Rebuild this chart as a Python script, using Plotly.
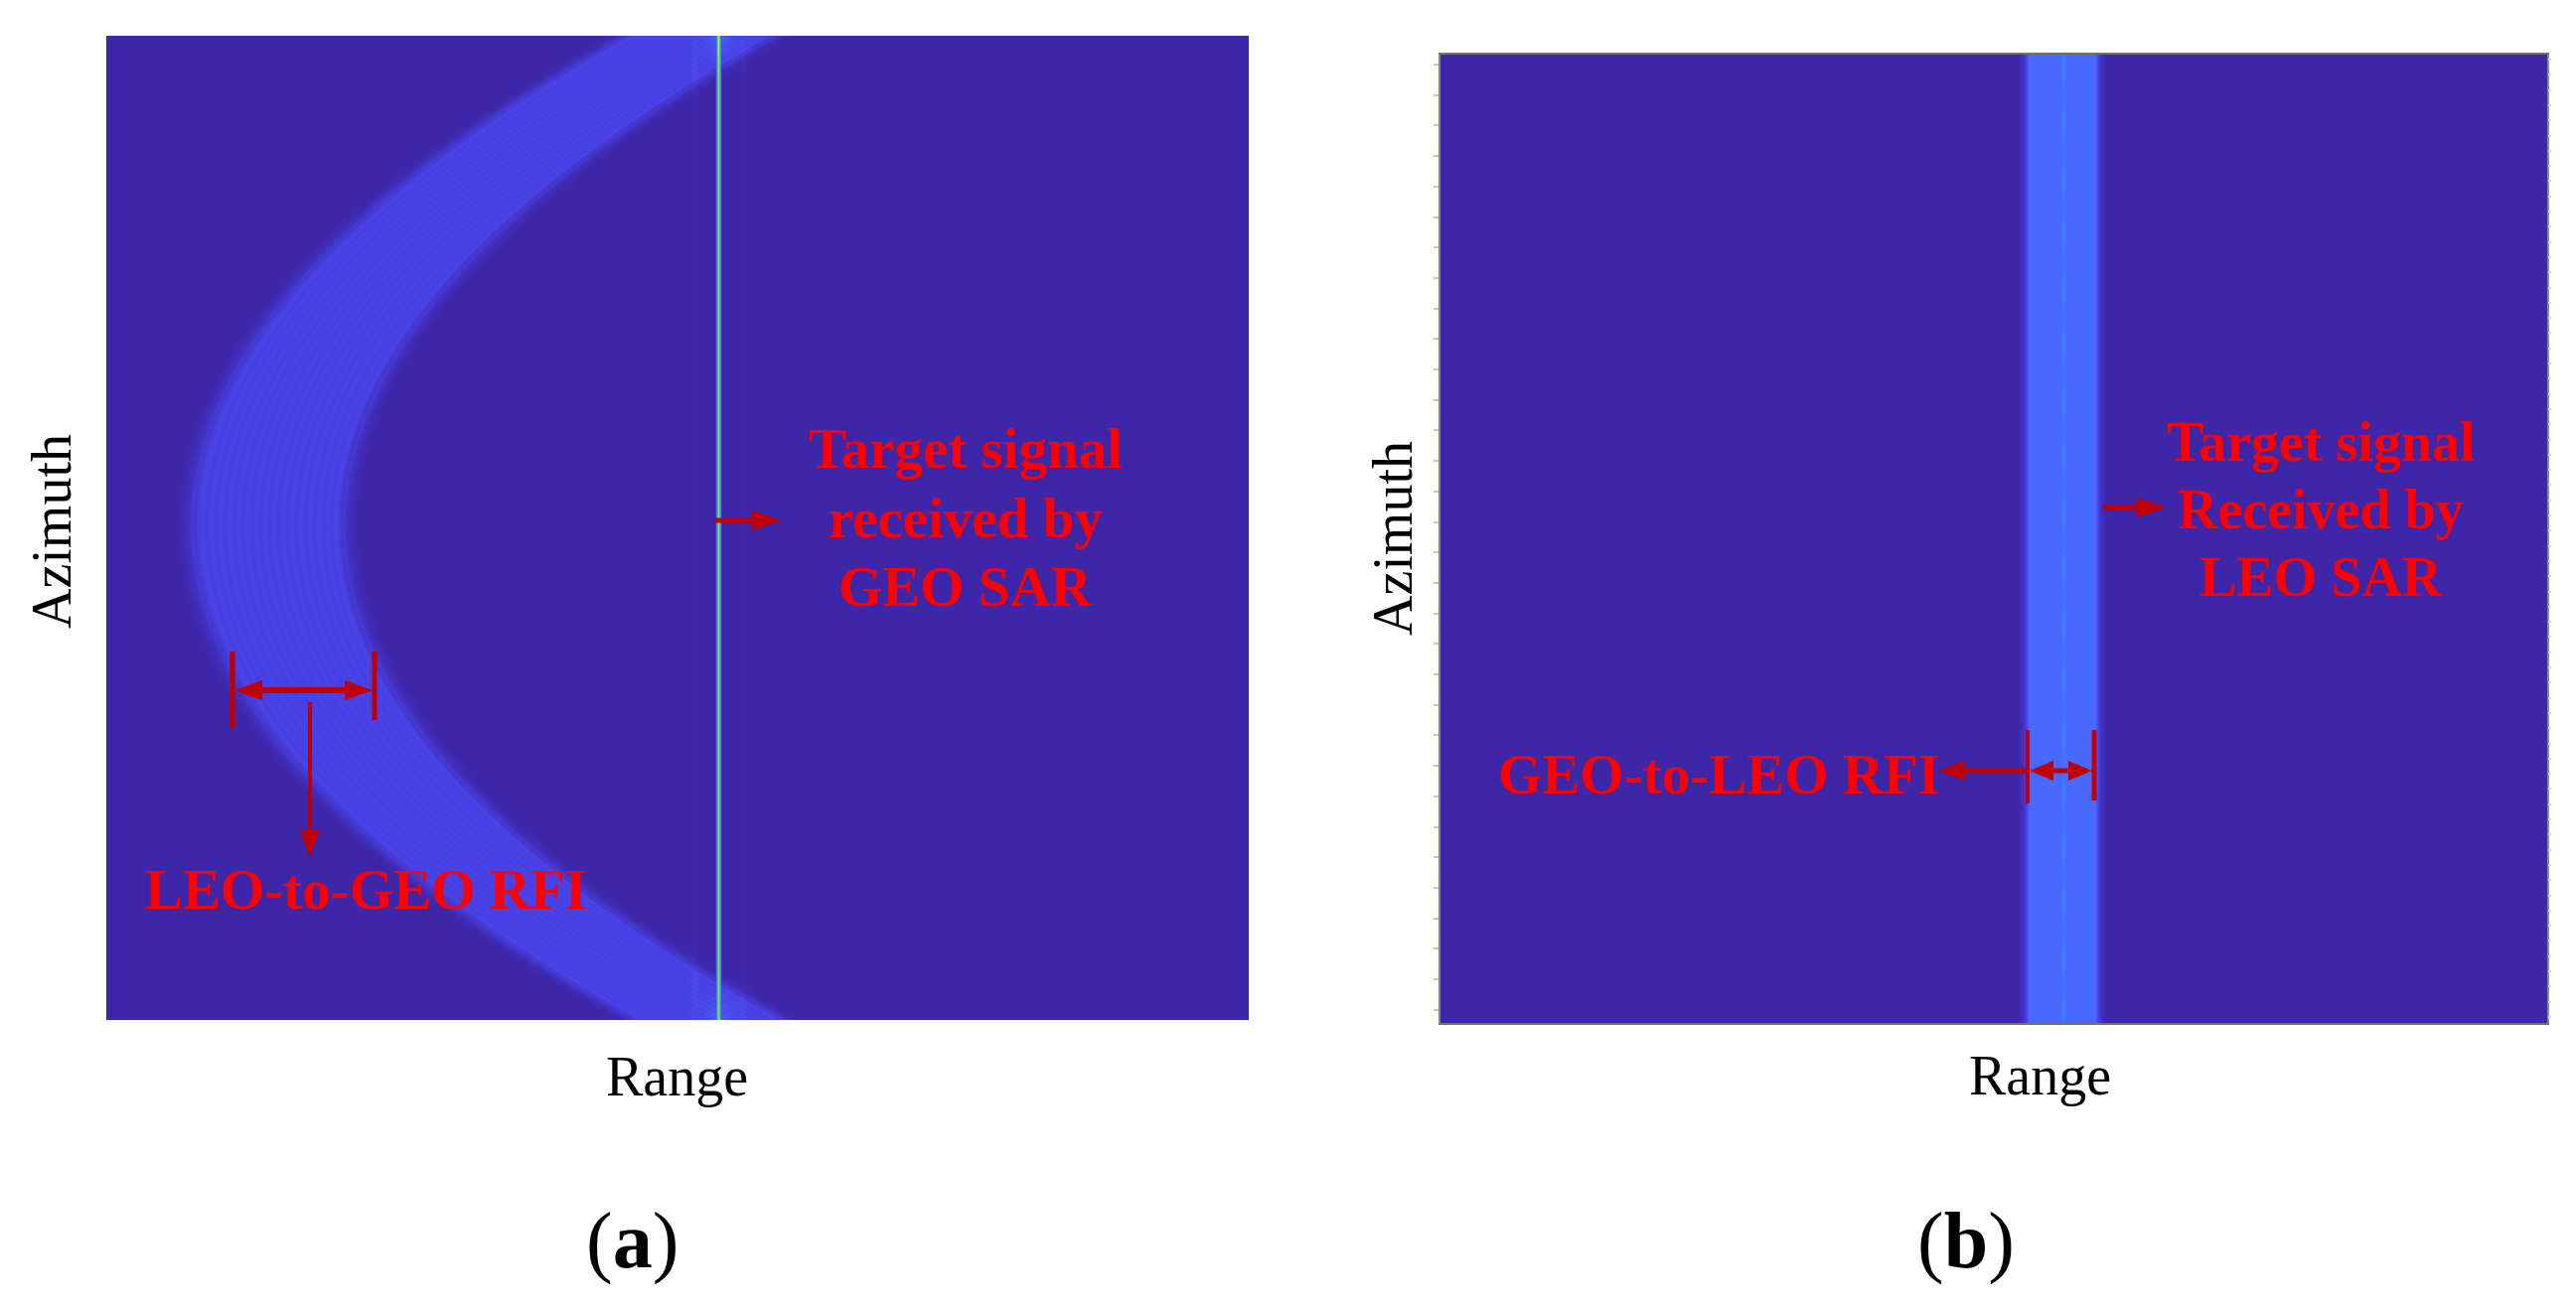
import numpy as np
import plotly.graph_objects as go

W_PX, H_PX = 2593, 1317

# plot frames on the page (left, top, right, bottom), pixels
PANEL_A = (107, 36, 1257, 1027)
PANEL_B = (1450, 55, 2564, 1030)

# (a) LEO-to-GEO interference: parabolic band + GEO target line (panel pixels)
A_VERTEX_X, A_VERTEX_Y = 88, 493
A_CURV = 0.00179
A_BAND_W = 150
A_BAND_LEVEL = 0.10
A_TARGET_X = 616
A_TARGET_LEVEL = 0.88

# (b) GEO-to-LEO interference: straight band + LEO target line (panel pixels)
B_BAND = (590, 662)
B_CENTER_X = 627
B_BAND_LEVEL = 0.18

# parula-like colour map
CSCALE = [
    [0.00, "rgb(62,38,168)"],
    [0.10, "rgb(72,66,230)"],
    [0.18, "rgb(72,106,255)"],
    [0.28, "rgb(40,140,245)"],
    [0.40, "rgb(20,170,225)"],
    [0.55, "rgb(30,190,190)"],
    [0.70, "rgb(90,200,120)"],
    [0.80, "rgb(150,200,70)"],
    [0.90, "rgb(230,190,45)"],
    [1.00, "rgb(250,245,20)"],
]

RED = "#ff0000"
DARK_RED = "#c00000"


def sig(t):
    return 1.0 / (1.0 + np.exp(-t))


def panel_a_image():
    nx = PANEL_A[2] - PANEL_A[0]
    ny = PANEL_A[3] - PANEL_A[1]
    xs = np.arange(nx) + 0.5
    ys = np.arange(ny) + 0.5
    X, Y = np.meshgrid(xs, ys)
    outer = A_VERTEX_X + A_CURV * (Y - A_VERTEX_Y) ** 2
    u = X - outer
    inside = sig(u / 4.0) * sig((A_BAND_W - u) / 4.0)
    fringe = 1 + 0.06 * np.cos(2 * np.pi * u / 9.0)
    edges = 0.018 * (np.exp(-((u - 6) / 5) ** 2) + np.exp(-((A_BAND_W - u - 6) / 5) ** 2))
    halo = 0.025 * (np.exp(-(u / 12) ** 2) * (u < 0) + np.exp(-((A_BAND_W - u) / 12) ** 2) * (u > A_BAND_W))
    z = A_BAND_LEVEL * inside * fringe + edges + halo
    d = X - (A_TARGET_X + 0.5)
    side = 0.012 * np.exp(-((np.abs(d) - 24) / 4) ** 2)
    glow = 0.05 * np.exp(-(d / 14) ** 2) * (np.exp(-(Y / 20) ** 2) + np.exp(-((ny - Y) / 20) ** 2))
    z = z + side + glow
    line = A_TARGET_LEVEL * np.exp(-(d / 1.8) ** 2) * (1 + 0.10 * np.exp(-(Y / 25) ** 2))
    z = np.maximum(z, line)
    return xs, ys, (np.clip(z, 0, 1) * 255).astype(np.uint8)


def panel_b_image():
    nx = PANEL_B[2] - PANEL_B[0]
    ny = PANEL_B[3] - PANEL_B[1]
    xs = np.arange(nx) + 0.5
    ys = np.arange(ny) + 0.5
    X, Y = np.meshgrid(xs, ys)
    w = B_BAND[1] - B_BAND[0]
    u = X - B_BAND[0]
    inside = sig(u / 1.8) * sig((w - u) / 1.8)
    edges = 0.025 * (np.exp(-((u - 3) / 2) ** 2) + np.exp(-((w - u - 3) / 2) ** 2))
    halo = 0.03 * (np.exp(-(u / 6) ** 2) + np.exp(-((w - u) / 6) ** 2))
    z = B_BAND_LEVEL * inside + edges + halo * (1 - inside)
    dash = np.where((Y // 28) % 2 == 0, 0.10, 0.04)
    z = z + dash * np.exp(-((X - B_CENTER_X - 0.5) / 1.0) ** 2)
    return xs, ys, (np.clip(z, 0, 1) * 255).astype(np.uint8)


def px(x):
    return x / W_PX


def py(y):
    return 1 - y / H_PX


shapes = []
annotations = []


def seg(x0, y0, x1, y1, lw):
    shapes.append(dict(type="line", xref="paper", yref="paper",
                       x0=px(x0), y0=py(y0), x1=px(x1), y1=py(y1),
                       line=dict(color=DARK_RED, width=lw)))


def arrow(x0, y0, x1, y1, head=28, hw=20, lw=5):
    L = np.hypot(x1 - x0, y1 - y0)
    ux, uy = (x1 - x0) / L, (y1 - y0) / L
    bx, by = x1 - ux * head, y1 - uy * head
    seg(x0, y0, bx + ux * 2, by + uy * 2, lw)
    nx_, ny_ = -uy, ux
    pts = [(x1, y1), (bx + nx_ * hw / 2, by + ny_ * hw / 2), (bx - nx_ * hw / 2, by - ny_ * hw / 2)]
    path = "M " + " L ".join(f"{px(a):.6f},{py(b):.6f}" for a, b in pts) + " Z"
    shapes.append(dict(type="path", xref="paper", yref="paper", path=path,
                       fillcolor=DARK_RED, line=dict(color=DARK_RED, width=0)))


def text(s, x, y, size, color=RED, family="Liberation Serif", angle=0, bold=True):
    annotations.append(dict(text=f"<b>{s}</b>" if bold else s, x=px(x), y=py(y),
                            xref="paper", yref="paper", showarrow=False,
                            xanchor="center", yanchor="middle", textangle=angle,
                            font=dict(family=family, size=size, color=color)))


xa, ya, za = panel_a_image()
xb, yb, zb = panel_b_image()

fig = go.Figure()
fig.add_trace(go.Heatmap(x=xa, y=ya, z=za, colorscale=CSCALE, zmin=0, zmax=255,
                         showscale=False, hoverinfo="skip", xaxis="x", yaxis="y"))
fig.add_trace(go.Heatmap(x=xb, y=yb, z=zb, colorscale=CSCALE, zmin=0, zmax=255,
                         showscale=False, hoverinfo="skip", xaxis="x2", yaxis="y2"))
fig.add_trace(go.Scatter(x=[None], y=[None], xaxis="x2", yaxis="y3", showlegend=False))

# annotations, panel (a)
arrow(720, 524, 787, 524, head=30, hw=20, lw=5)
for s, yy in [("Target signal", 452), ("received by", 521), ("GEO SAR", 590)]:
    text(s, 972, yy, 57)
seg(234, 656, 234, 733, 5)
seg(377, 656, 377, 725, 5)
arrow(306, 695, 236, 695, head=28, hw=20, lw=6)
arrow(306, 695, 375, 695, head=28, hw=20, lw=6)
arrow(312, 707, 312, 863, head=28, hw=20, lw=4)
text("LEO-to-GEO RFI", 368, 896, 57)

# annotations, panel (b)
arrow(2117, 511, 2181, 511, head=30, hw=20, lw=5)
for s, yy in [("Target signal", 445), ("Received by", 513), ("LEO SAR", 581)]:
    text(s, 2336, yy, 56)
seg(2041, 735, 2041, 809, 4)
seg(2108, 735, 2108, 806, 5)
arrow(2041, 776, 1951, 776, head=27, hw=20, lw=5)
arrow(2074, 776, 2043, 776, head=24, hw=20, lw=5)
arrow(2074, 776, 2106, 776, head=24, hw=20, lw=5)
text("GEO-to-LEO RFI", 1730, 779, 57)

# axis titles and panel labels
text("Range", 681, 1084, 56, color="black", bold=False)
text("Range", 2053, 1083, 56, color="black", bold=False)
text("Azimuth", 52, 535, 56, color="black", angle=-90, bold=False)
text("Azimuth", 1402, 542, 56, color="black", angle=-90, bold=False)
text("(<b>a</b>)", 636, 1249, 80, color="black", bold=False)
text("(<b>b</b>)", 1979, 1249, 80, color="black", bold=False)

fig.update_layout(
    width=W_PX, height=H_PX,
    margin=dict(l=0, r=0, t=0, b=0),
    paper_bgcolor="white", plot_bgcolor="white",
    showlegend=False,
    xaxis=dict(domain=[px(PANEL_A[0]), px(PANEL_A[2])], range=[0, PANEL_A[2] - PANEL_A[0]],
               visible=False, anchor="y"),
    yaxis=dict(domain=[py(PANEL_A[3]), py(PANEL_A[1])], range=[PANEL_A[3] - PANEL_A[1], 0],
               visible=False, anchor="x"),
    xaxis2=dict(domain=[px(PANEL_B[0]), px(PANEL_B[2])], range=[0, PANEL_B[2] - PANEL_B[0]],
                showline=True, linecolor="#707070", linewidth=2, mirror=True,
                showticklabels=False, ticks="", showgrid=False, zeroline=False, anchor="y2"),
    yaxis2=dict(domain=[py(PANEL_B[3]), py(PANEL_B[1])], range=[PANEL_B[3] - PANEL_B[1], 0],
                showline=True, linecolor="#8a8a8a", linewidth=2, mirror=True,
                ticks="outside", tick0=10, dtick=30.7, ticklen=5, tickwidth=2, tickcolor="#c4c4c4",
                showticklabels=False, showgrid=False, zeroline=False, anchor="x2"),
    yaxis3=dict(overlaying="y2", side="right", anchor="x2", range=[PANEL_B[3] - PANEL_B[1], 0],
                ticks="outside", tick0=5, dtick=15.3, ticklen=3, tickwidth=2, tickcolor="#d4d4d4",
                showticklabels=False, showgrid=False, zeroline=False, showline=False),
    shapes=shapes,
    annotations=annotations,
)

fig.write_html("out.html", config={"displayModeBar": False},
               post_script="document.body.style.margin='0';")
